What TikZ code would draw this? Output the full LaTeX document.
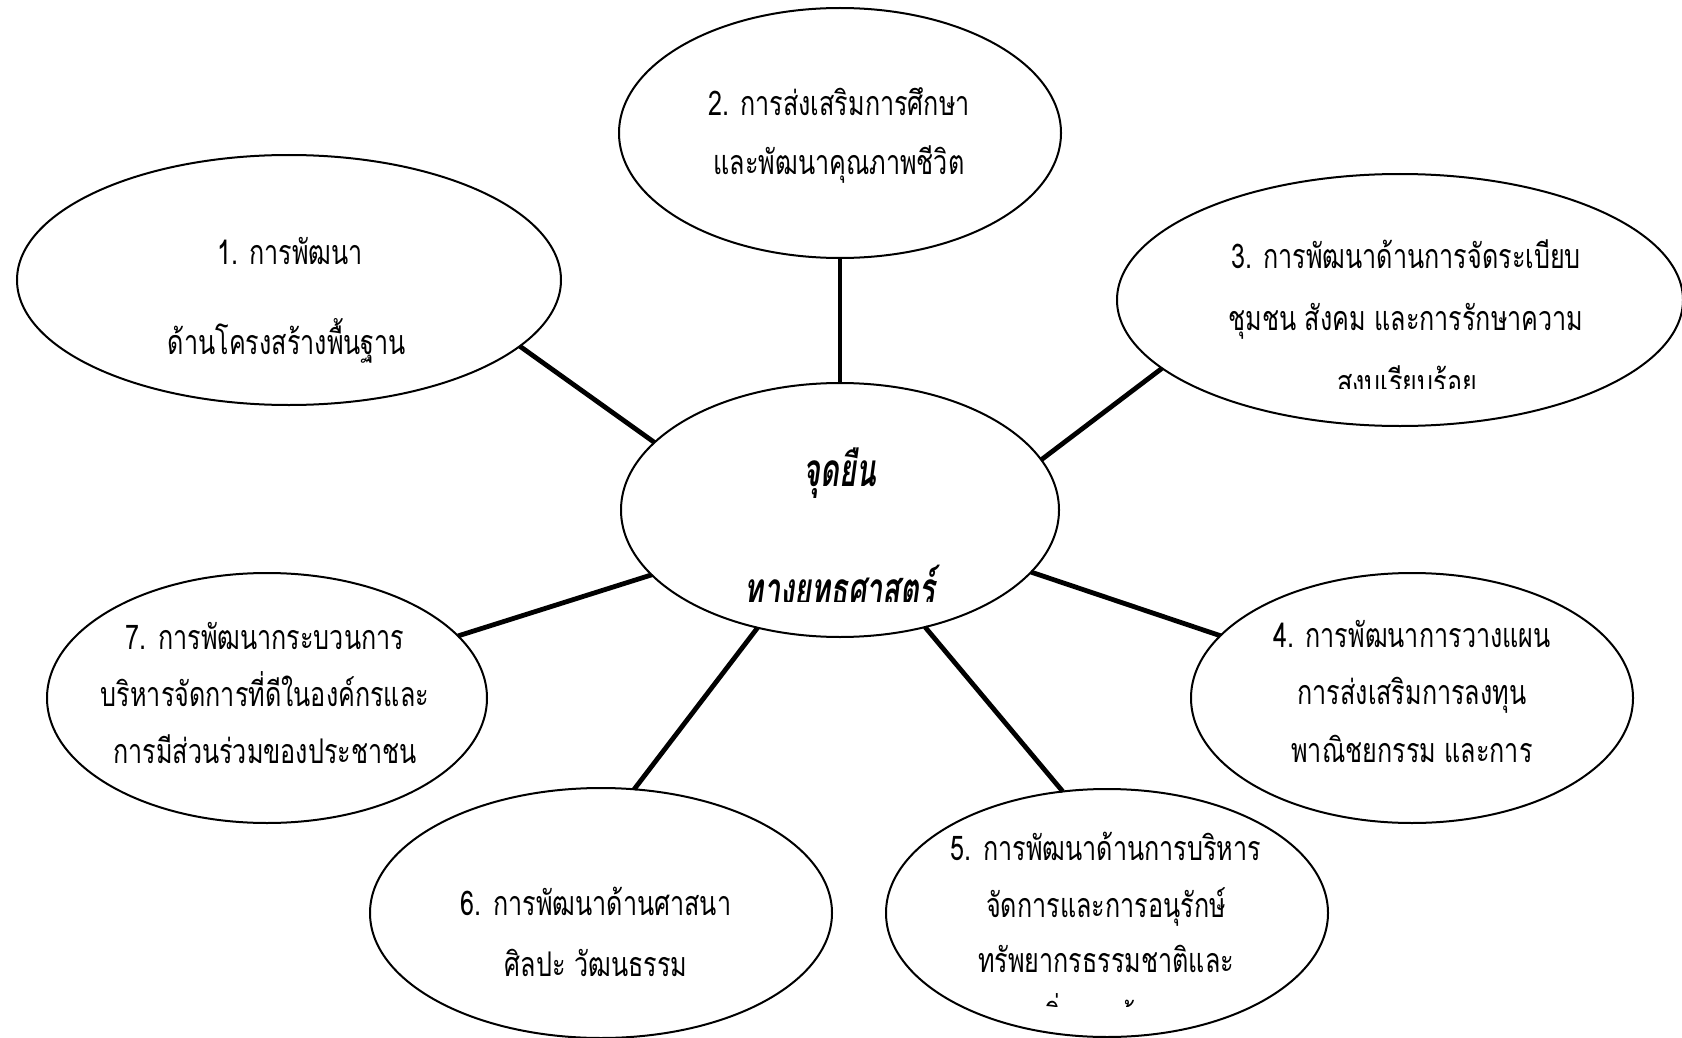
\documentclass[tikz,border=0pt]{standalone}
\usepackage{fontspec}
\usetikzlibrary{shapes.geometric}
\newfontfamily\thai[Script=Thai,FakeStretch=0.74]{Loma}
\newfontfamily\thaic[Script=Thai,FakeStretch=0.63]{Loma}
\tikzset{
  ell/.style={ellipse, draw, line width=1pt, inner sep=0pt, outer sep=0pt},
  conn/.style={line width=2.4pt},
  txt/.style={font=\thai\fontsize{17}{19}\selectfont, anchor=mid, inner sep=0pt},
  ctxt/.style={font=\thaic\bfseries\itshape\fontsize{23}{25}\selectfont, anchor=mid, inner sep=0pt}
}
\begin{document}
\begin{tikzpicture}[x=0.5pt,y=-0.5pt]
\useasboundingbox (0,0) rectangle (1682,1038);
\fill[white] (0,0) rectangle (1682,1038);
% ellipses (minimum width = 2rx px = rx pt)
\node[ell, minimum width=219pt, minimum height=127pt] (c) at (840,510) {};
\node[ell, minimum width=272pt, minimum height=125pt] (e1) at (289,280) {};
\node[ell, minimum width=221pt, minimum height=125pt] (e2) at (840,133) {};
\node[ell, minimum width=283pt, minimum height=126pt] (e3) at (1400,300) {};
\node[ell, minimum width=221pt, minimum height=125pt] (e4) at (1412,698) {};
\node[ell, minimum width=221pt, minimum height=124pt] (e5) at (1107,913) {};
\node[ell, minimum width=231pt, minimum height=125pt] (e6) at (601,913) {};
\node[ell, minimum width=220pt, minimum height=125pt] (e7) at (267,698) {};
% connectors
\draw[conn] (e1.-16.1) -- (c.160.9);
\draw[conn] (e2.-90) -- (c.90);
\draw[conn] (e3.-164.5) -- (c.14.5);
\draw[conn] (c.-18.3) -- (e4.162.3);
\draw[conn] (c.-54.3) -- (e5.110.9);
\draw[conn] (c.-125.8) -- (e6.75.4);
\draw[conn] (c.-161.8) -- (e7.18.2);
% texts
\node[txt] (t1a) at (290,260) {1. การพัฒนา};
\node[txt] (t1b) at (287,350) {ด้านโครงสร้างพื้นฐาน};
\node[txt] (t2a) at (839,111) {2. การส่งเสริมการศึกษา};
\node[txt] (t2b) at (839,170) {และพัฒนาคุณภาพชีวิต};
\node[txt] (t3a) at (1406,264) {3. การพัฒนาด้านการจัดระเบียบ};
\node[txt] (t3b) at (1406,326) {ชุมชน สังคม และการรักษาความ};
\begin{scope}
\clip (1118,345) rectangle (1682,388);
\node[txt] (t3c) at (1407,390) {สงบเรียบร้อย};
\end{scope}
\node[txt] (t4a) at (1412,643) {4. การพัฒนาการวางแผน};
\node[txt] (t4b) at (1412,700) {การส่งเสริมการลงทุน};
\node[txt] (t4c) at (1412,758) {พาณิชยกรรม และการ};
\node[txt] (t5a) at (1106,856) {5. การพัฒนาด้านการบริหาร};
\node[txt] (t5b) at (1106,913) {จัดการและการอนุรักษ์};
\node[txt] (t5c) at (1106,968) {ทรัพยากรธรรมชาติและ};
\begin{scope}
\clip (886,985) rectangle (1330,1006);
\node[txt] (t5d) at (1106,1024) {สิ่งแวดล้อม};
\end{scope}
\node[txt] (t6a) at (596,911) {6. การพัฒนาด้านศาสนา};
\node[txt] (t6b) at (596,972) {ศิลปะ วัฒนธรรม};
\node[txt] (t7a) at (265,645) {7. การพัฒนากระบวนการ};
\node[txt] (t7b) at (265,702) {บริหารจัดการที่ดีในองค์กรและ};
\node[txt] (t7c) at (265,759) {การมีส่วนร่วมของประชาชน};
\node[ctxt] (tca) at (840,482) {จุดยืน};
\begin{scope}
\clip (700,540) rectangle (980,601);
\node[ctxt] (tcb) at (840,601) {ทางยุทธศาสตร์};
\end{scope}
\end{tikzpicture}
\end{document}
